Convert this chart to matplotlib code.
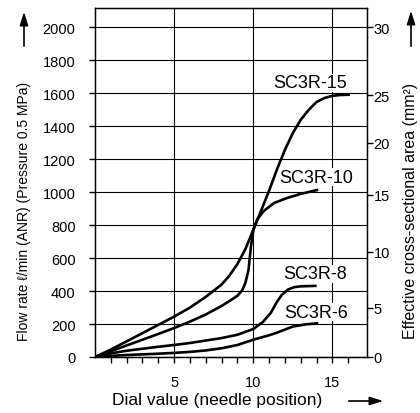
import matplotlib
matplotlib.use("Agg")
import matplotlib.pyplot as plt
from matplotlib import font_manager

# flow rate (l/min ANR) vs dial value
dial15 = [0, 1, 2, 3, 4, 5, 6, 7, 8, 8.5, 9, 9.5, 10, 10.5, 11, 11.5, 12, 12.5, 13, 13.5, 14, 14.5, 15, 15.5, 16.1]
flow15 = [0, 45, 95, 145, 195, 245, 300, 365, 440, 495, 565, 655, 772, 890, 1010, 1140, 1258, 1360, 1440, 1500, 1548, 1572, 1585, 1590, 1592]

dial10 = [0, 1, 2, 3, 4, 5, 6, 7, 8, 8.5, 9, 9.3, 9.5, 9.7, 9.85, 10, 10.25, 10.65, 11.3, 12.1, 13, 14.1]
flow10 = [0, 35, 70, 105, 140, 176, 215, 258, 310, 340, 372, 405, 450, 530, 670, 772, 835, 885, 934, 964, 990, 1015]

dial8 = [0, 1, 2, 3, 4, 5, 6, 7, 8, 9, 10, 10.6, 11.1, 11.5, 11.8, 12.2, 12.6, 13, 14]
flow8 = [0, 22, 38, 50, 62, 73, 85, 100, 115, 135, 170, 212, 267, 336, 377, 410, 424, 429, 432]

dial6 = [0, 1, 2, 3, 4, 5, 6, 7, 8, 9, 10, 11, 11.5, 12.5, 13.3, 14.1]
flow6 = [0, 7, 12, 16, 20, 25, 31, 40, 53, 73, 105, 132, 148, 185, 198, 205]

curve_names = ["SC3R-15", "SC3R-10", "SC3R-8", "SC3R-6"]
label_x = [13.58, 14.0, 13.9, 13.96]
label_y = [1663, 1091, 504, 273]

flow_ticks = [0, 200, 400, 600, 800, 1000, 1200, 1400, 1600, 1800, 2000]
dial_ticks = [5, 10, 15]
area_labels = ["0", "5", "10", "15", "20", "25", "30"]
area_pos = [0, 300, 640, 985, 1300, 1590, 2000]   # where the area ticks sit on the flow scale

names = {f.name for f in font_manager.fontManager.ttflist}
tick_font = "Liberation Sans Narrow" if "Liberation Sans Narrow" in names else "Liberation Sans"
tick_size = 12 if tick_font == "Liberation Sans Narrow" else 10.5
plt.rcParams["font.family"] = ["Liberation Sans", "DejaVu Sans"]

fig = plt.figure(figsize=(4.2, 4.14), dpi=100)
ax = fig.add_axes([95 / 420, 56 / 414, 271.5 / 420, 349 / 414])

for d, f in [(dial15, flow15), (dial10, flow10), (dial8, flow8), (dial6, flow6)]:
    ax.plot(d, f, color="black", lw=1.9, zorder=3, solid_capstyle="butt")

for name, tx, ty in zip(curve_names, label_x, label_y):
    ax.text(tx, ty, name, ha="center", va="center", fontsize=13, zorder=2.5,
            bbox=dict(facecolor="white", edgecolor="none", pad=0.5))

ax.set_xlim(0, 17.15)
ax.set_ylim(0, 2118)
ax.set_xticks(dial_ticks)
ax.set_xticks(range(1, 17), minor=True)
ax.set_yticks(flow_ticks)
ax.grid(True, which="major", color="black", lw=0.8)
ax.set_axisbelow(True)
for s in ax.spines.values():
    s.set_linewidth(1.0)

ax.tick_params(axis="both", which="both", direction="out", length=4, width=1)
ax.tick_params(axis="y", pad=10)
ax.tick_params(axis="x", pad=9)
for lab in ax.get_xticklabels() + ax.get_yticklabels():
    lab.set_fontfamily(tick_font)
    lab.set_fontsize(tick_size)

ax2 = ax.twinx()
ax2.set_ylim(ax.get_ylim())
ax2.set_yticks(area_pos)
ax2.set_yticklabels(area_labels, fontfamily=tick_font, fontsize=tick_size)
ax2.tick_params(axis="y", direction="out", length=4, width=1, pad=1)

fig.text(217 / 420, 1 - 401 / 414, "Dial value (needle position)", ha="center", va="center", fontsize=12.5)
fig.text(24 / 420, 1 - 211 / 414, "Flow rate ℓ/min (ANR) (Pressure 0.5 MPa)",
         rotation=90, ha="center", va="center", fontsize=10)
fig.text(411 / 420, 1 - 211 / 414, "Effective cross-sectional area (mm²)",
         rotation=90, ha="center", va="center", fontsize=11.5)

arrow = dict(arrowstyle="-|>,head_length=0.8,head_width=0.25", color="black", lw=1.2)
ax.annotate("", xy=(24, 414 - 10), xytext=(24, 414 - 50), xycoords="figure pixels", arrowprops=arrow)
ax.annotate("", xy=(411, 414 - 9), xytext=(411, 414 - 50), xycoords="figure pixels", arrowprops=arrow)
ax.annotate("", xy=(386, 414 - 402), xytext=(346, 414 - 402), xycoords="figure pixels", arrowprops=arrow)

fig.savefig("out.png", dpi=100)
